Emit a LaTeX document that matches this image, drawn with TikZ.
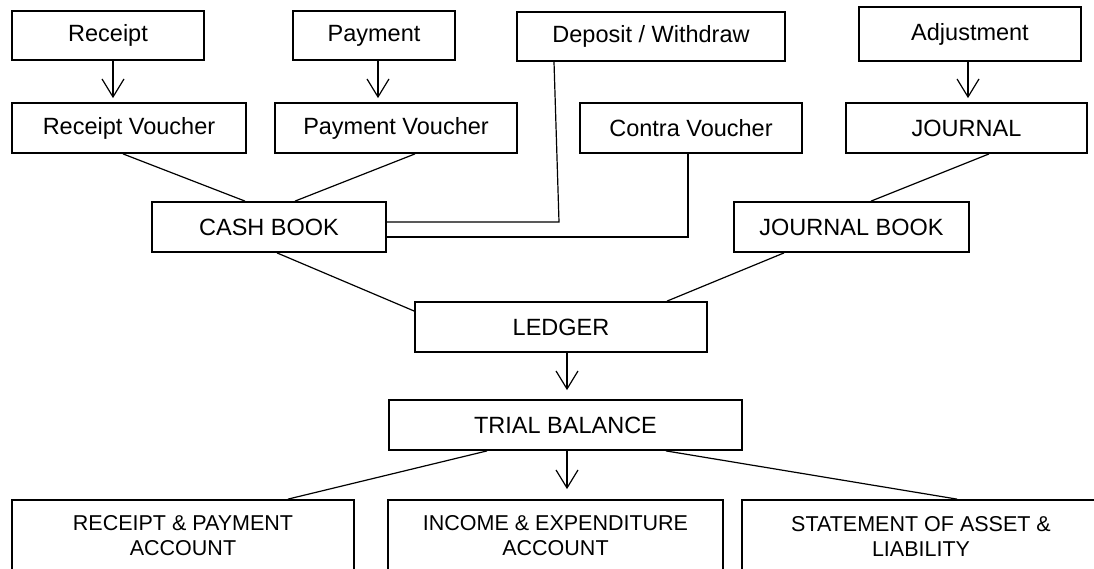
\documentclass[tikz,border=0pt]{standalone}
\usepackage{fontspec}
\setmainfont{Liberation Sans}
\usetikzlibrary{arrows.meta}

\begin{document}
\begin{tikzpicture}[x=1pt, y=-1pt,
      box/.style={draw, line width=1.8, inner sep=0, font=\fontsize{23.5}{27}\selectfont},
      accbox/.style={box, align=center, font=\fontsize{21.5}{25}\selectfont},
      link/.style={line width=1.2},
      flow/.style={line width=1.2, -{Straight Barb[length=18pt, width=22pt]}, shorten >=4pt}]
      \useasboundingbox (0,0) rectangle (1094,568);
      % sources and vouchers
      \node[box, minimum width=192, minimum height=49] (receipt) at (108,35.5) {Receipt};
      \node[box, minimum width=162, minimum height=49] (payment) at (374,35.5) {Payment};
      \node[box, minimum width=268, minimum height=49] (deposit) at (651,36.5) {Deposit / Withdraw};
      \node[box, minimum width=222, minimum height=54] (adjust) at (970,34) {Adjustment};
      \node[box, minimum width=234, minimum height=50] (rvoucher) at (129,128) {Receipt Voucher};
      \node[box, minimum width=242, minimum height=50] (pvoucher) at (396,128) {Payment Voucher};
      \node[box, minimum width=222, minimum height=50] (contra) at (691,128) {Contra Voucher};
      \node[box, minimum width=241, minimum height=50] (journal) at (966.5,128) {JOURNAL};
      % books
      \node[box, minimum width=234, minimum height=50] (cashbook) at (269,227) {CASH BOOK};
      \node[box, minimum width=235, minimum height=50] (jbook) at (851.5,227) {JOURNAL BOOK};
      \node[box, minimum width=292, minimum height=50] (ledger) at (561,327) {LEDGER};
      \node[box, minimum width=353, minimum height=50] (trial) at (565.5,425) {TRIAL BALANCE};
      % final accounts
      \node[accbox, minimum width=342, minimum height=72] (rpacc) at (183,536) {RECEIPT \& PAYMENT\\ACCOUNT};
      \node[accbox, minimum width=335, minimum height=72] (ieacc) at (555.5,536) {INCOME \& EXPENDITURE\\ACCOUNT};
      \node[accbox, minimum width=358, minimum height=72] (salacc) at (921,536) {STATEMENT OF ASSET \&\\LIABILITY};
      \coordinate (dbend) at (559,222);
      \coordinate (cbend) at (688,237);

      \draw[flow] ([xshift=5pt]receipt.south) -- ([xshift=5pt]receipt.south |- rvoucher.north);
      \draw[flow] ([xshift=4pt]payment.south) -- ([xshift=4pt]payment.south |- pvoucher.north);
      \draw[flow] ([xshift=-2pt]adjust.south) -- ([xshift=-2pt]adjust.south |- journal.north);
      \draw[link] ([xshift=-6pt]rvoucher.south) -- ([xshift=-24pt]cashbook.north);
      \draw[link] ([xshift=19pt]pvoucher.south) -- ([xshift=26pt]cashbook.north);
      \draw[link] ([xshift=-97pt]deposit.south) -- (dbend) -- (dbend -| cashbook.east);
      \draw[link] (contra.south -| cbend) -- (cbend) -- (cbend -| cashbook.east);
      \draw[link] ([xshift=22.5pt]journal.south) -- ([xshift=19.5pt]jbook.north);
      \draw[link] ([xshift=8pt]cashbook.south) -- ([yshift=16pt]ledger.west);
      \draw[link] ([xshift=-67.5pt]jbook.south) -- ([xshift=106pt]ledger.north);
      \draw[flow, shorten >=9pt] ([xshift=6pt]ledger.south) -- ([xshift=6pt]ledger.south |- trial.north);
      \draw[link] ([xshift=-78.5pt]trial.south) -- ([xshift=105pt]rpacc.north);
      \draw[flow, shorten >=10pt] ([xshift=1.5pt]trial.south) -- ([xshift=1.5pt]trial.south |- ieacc.north);
      \draw[link] ([xshift=100.5pt]trial.south) -- ([xshift=36pt]salacc.north);
\end{tikzpicture}
\end{document}
